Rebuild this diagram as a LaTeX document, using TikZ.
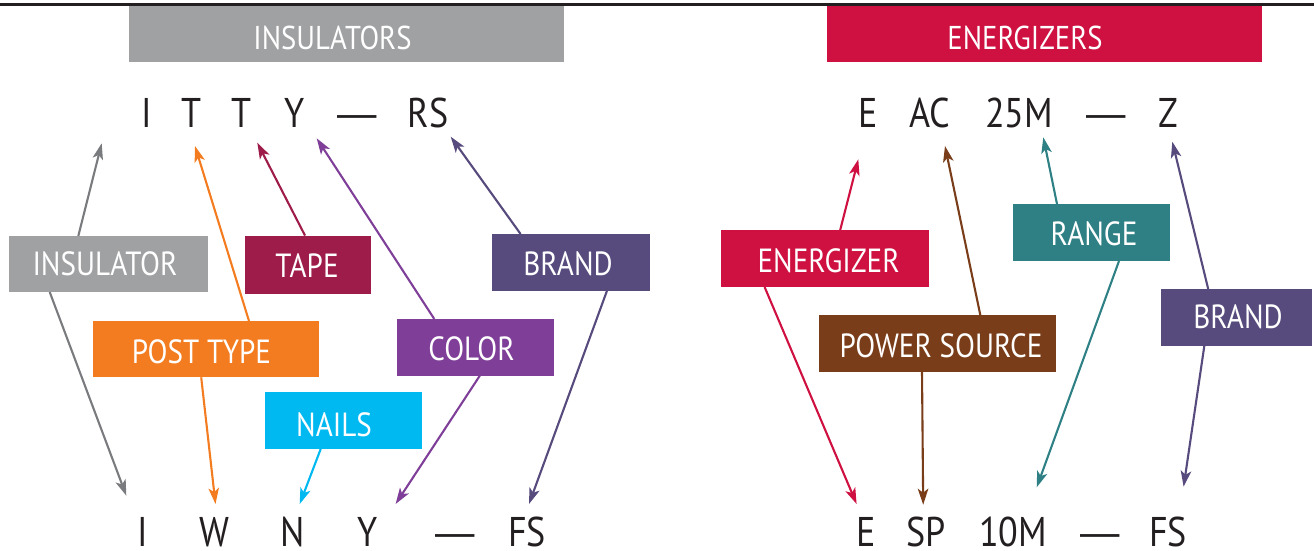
\documentclass[tikz,border=0pt]{standalone}
\usepackage{fontspec}
\setmainfont[FakeStretch=0.87]{PT Sans}
\newfontfamily\dashfont[FakeStretch=0.95]{Liberation Sans}
\usetikzlibrary{arrows.meta}
\definecolor{ink}{HTML}{231F20}
\definecolor{cgrey}{HTML}{A0A1A3}
\definecolor{cgreyln}{HTML}{7A7B7E}
\definecolor{ctape}{HTML}{9E1C4A}
\definecolor{cbrand}{HTML}{574A7C}
\definecolor{cpost}{HTML}{F47C20}
\definecolor{ccolor}{HTML}{7F3F98}
\definecolor{cnails}{HTML}{00B9F1}
\definecolor{cenergy}{HTML}{CE1141}
\definecolor{crange}{HTML}{2E8084}
\definecolor{cpower}{HTML}{7A3D1A}
\tikzset{
  boxst/.style={rectangle, inner sep=0pt, outer sep=0pt, draw=none},
  boxtext/.style={anchor=base, inner sep=0pt, text depth=0pt, text=white, font=\fontsize{33.5}{33.5}\selectfont},
  hdrtext/.style={anchor=base, inner sep=0pt, text depth=0pt, text=white, font=\fontsize{33}{33}\selectfont},
  code/.style={anchor=base, inner sep=0pt, text depth=0pt, text=ink, font=\fontsize{41.5}{41.5}\selectfont},
  dashcode/.style={code, font=\dashfont\fontsize{41.5}{41.5}\selectfont},
  conn/.style={line width=2.1pt, -{Stealth[length=16pt,width=10.5pt,inset=4pt]}},
}
\begin{document}
\begin{tikzpicture}[x=1pt,y=-1pt]
\useasboundingbox (0,0) rectangle (1314,550);
\draw[ink, line width=3pt] (0,4.5) -- (1314,4.5);
% header boxes
\node[boxst, fill=cgrey, minimum width=435.2pt, minimum height=56pt] (hdrI) at (346.4,34) {};
\node[hdrtext] (hdrIt) at (332.5,49.3) {INSULATORS};
\node[boxst, fill=cenergy, minimum width=435pt, minimum height=56pt] (hdrE) at (1044.5,34) {};
\node[hdrtext] (hdrEt) at (1025,49.3) {ENERGIZERS};
% top codes left
\node[code] (tI) at (147,127) {I};
\node[code] (tT1) at (192,127) {T};
\node[code] (tT2) at (242,127) {T};
\node[code] (tY) at (294.5,127) {Y};
\node[dashcode] (tD) at (357,127) {—};
\node[code] (tRS) at (428,127) {RS};
% bottom codes left
\node[code] (bI) at (143,546) {I};
\node[code] (bW) at (214.5,546) {W};
\node[code] (bN) at (293,546) {N};
\node[code] (bY) at (368,546) {Y};
\node[dashcode] (bD) at (455,546) {—};
\node[code] (bFS) at (527,546) {FS};
% top codes right
\node[code] (tE) at (868,127) {E};
\node[code] (tAC) at (930,127) {AC};
\node[code] (t25M) at (1019,127) {25M};
\node[dashcode] (tD2) at (1106,127) {—};
\node[code] (tZ) at (1168,127) {Z};
% bottom codes right
\node[code] (bE) at (866,546) {E};
\node[code] (bSP) at (926,546) {SP};
\node[code] (b10M) at (1013,546) {10M};
\node[dashcode] (bD2) at (1100,546) {—};
\node[code] (bFS2) at (1168,546) {FS};
% label boxes left
\node[boxst, fill=cgrey, minimum width=198.2pt, minimum height=56pt] (ins) at (108.4,264) {};
\node[boxtext] (inst) at (105,275) {INSULATOR};
\node[boxst, fill=ctape, minimum width=125.8pt, minimum height=58pt] (tape) at (308.3,264.5) {};
\node[boxtext] (tapet) at (307,277.5) {TAPE};
\node[boxst, fill=cbrand, minimum width=157.9pt, minimum height=56.7pt] (brandL) at (571.35,262.35) {};
\node[boxtext] (brandLt) at (568,275) {BRAND};
\node[boxst, fill=cpost, minimum width=225.6pt, minimum height=56.3pt] (post) at (205.8,349.15) {};
\node[boxtext] (postt) at (201.5,363) {POST TYPE};
\node[boxst, fill=ccolor, minimum width=156.5pt, minimum height=56.7pt] (color) at (475.25,347.35) {};
\node[boxtext] (colort) at (471.5,360) {COLOR};
\node[boxst, fill=cnails, minimum width=156.7pt, minimum height=57pt] (nails) at (343.35,420.5) {};
\node[boxtext] (nailst) at (334,436) {NAILS};
% label boxes right
\node[boxst, fill=cenergy, minimum width=208pt, minimum height=57pt] (enr) at (825,258.5) {};
\node[boxtext] (enrt) at (828.6,272) {ENERGIZER};
\node[boxst, fill=crange, minimum width=156.5pt, minimum height=57pt] (range) at (1091.25,232.5) {};
\node[boxtext] (ranget) at (1094,245) {RANGE};
\node[boxst, fill=cpower, minimum width=236.5pt, minimum height=57pt] (power) at (937.25,343.5) {};
\node[boxtext] (powert) at (941,357) {POWER SOURCE};
\node[boxst, fill=cbrand, minimum width=151pt, minimum height=57pt] (brandR) at (1236.5,317.5) {};
\node[boxtext] (brandRt) at (1238,328) {BRAND};
% arrow end coordinates
\coordinate (aInsT) at (101.7,143.3);
\coordinate (aInsB) at (126.3,495.7);
\coordinate (aPostT) at (195,146);
\coordinate (aPostB) at (215.5,504);
\coordinate (aTapeT) at (257.3,142.7);
\coordinate (aColorT) at (316.7,138.3);
\coordinate (aColorB) at (395.6,504);
\coordinate (aBrandLT) at (450.7,136.7);
\coordinate (aBrandLB) at (529,504);
\coordinate (aNailsB) at (299.7,504);
\coordinate (aEnrT) at (858.3,159.3);
\coordinate (aEnrB) at (856.6,504);
\coordinate (aPowT) at (945,146);
\coordinate (aPowB) at (923.2,504.7);
\coordinate (aRangeT) at (1043.3,137.3);
\coordinate (aRangeB) at (1036.7,487.3);
\coordinate (aBrandRT) at (1172.3,141.7);
\coordinate (aBrandRB) at (1183.6,486.7);
% connectors
\draw[conn, cgreyln] ([xshift=69pt]ins.north west) -- (aInsT);
\draw[conn, cgreyln] ([xshift=40.4pt]ins.south west) -- (aInsB);
\draw[conn, cpost] ([xshift=156pt]post.north west) -- (aPostT);
\draw[conn, cpost] ([xshift=108.2pt]post.south west) -- (aPostB);
\draw[conn, ctape] ([xshift=59.6pt]tape.north west) -- (aTapeT);
\draw[conn, ccolor] ([xshift=37.3pt]color.north west) -- (aColorT);
\draw[conn, ccolor] ([xshift=82.8pt]color.south west) -- (aColorB);
\draw[conn, cbrand] ([xshift=28.2pt]brandL.north west) -- (aBrandLT);
\draw[conn, cbrand] ([xshift=114.6pt]brandL.south west) -- (aBrandLB);
\draw[conn, cnails] ([xshift=55.7pt]nails.south west) -- (aNailsB);
\draw[conn, cenergy] ([xshift=119.2pt]enr.north west) -- (aEnrT);
\draw[conn, cenergy] ([xshift=43.6pt]enr.south west) -- (aEnrB);
\draw[conn, cpower] ([xshift=161.3pt]power.north west) -- (aPowT);
\draw[conn, cpower] ([xshift=103pt]power.south west) -- (aPowB);
\draw[conn, crange] ([xshift=44pt]range.north west) -- (aRangeT);
\draw[conn, crange] ([xshift=106pt]range.south west) -- (aRangeB);
\draw[conn, cbrand] ([xshift=47.2pt]brandR.north west) -- (aBrandRT);
\draw[conn, cbrand] ([xshift=43.3pt]brandR.south west) -- (aBrandRB);
\end{tikzpicture}
\end{document}
